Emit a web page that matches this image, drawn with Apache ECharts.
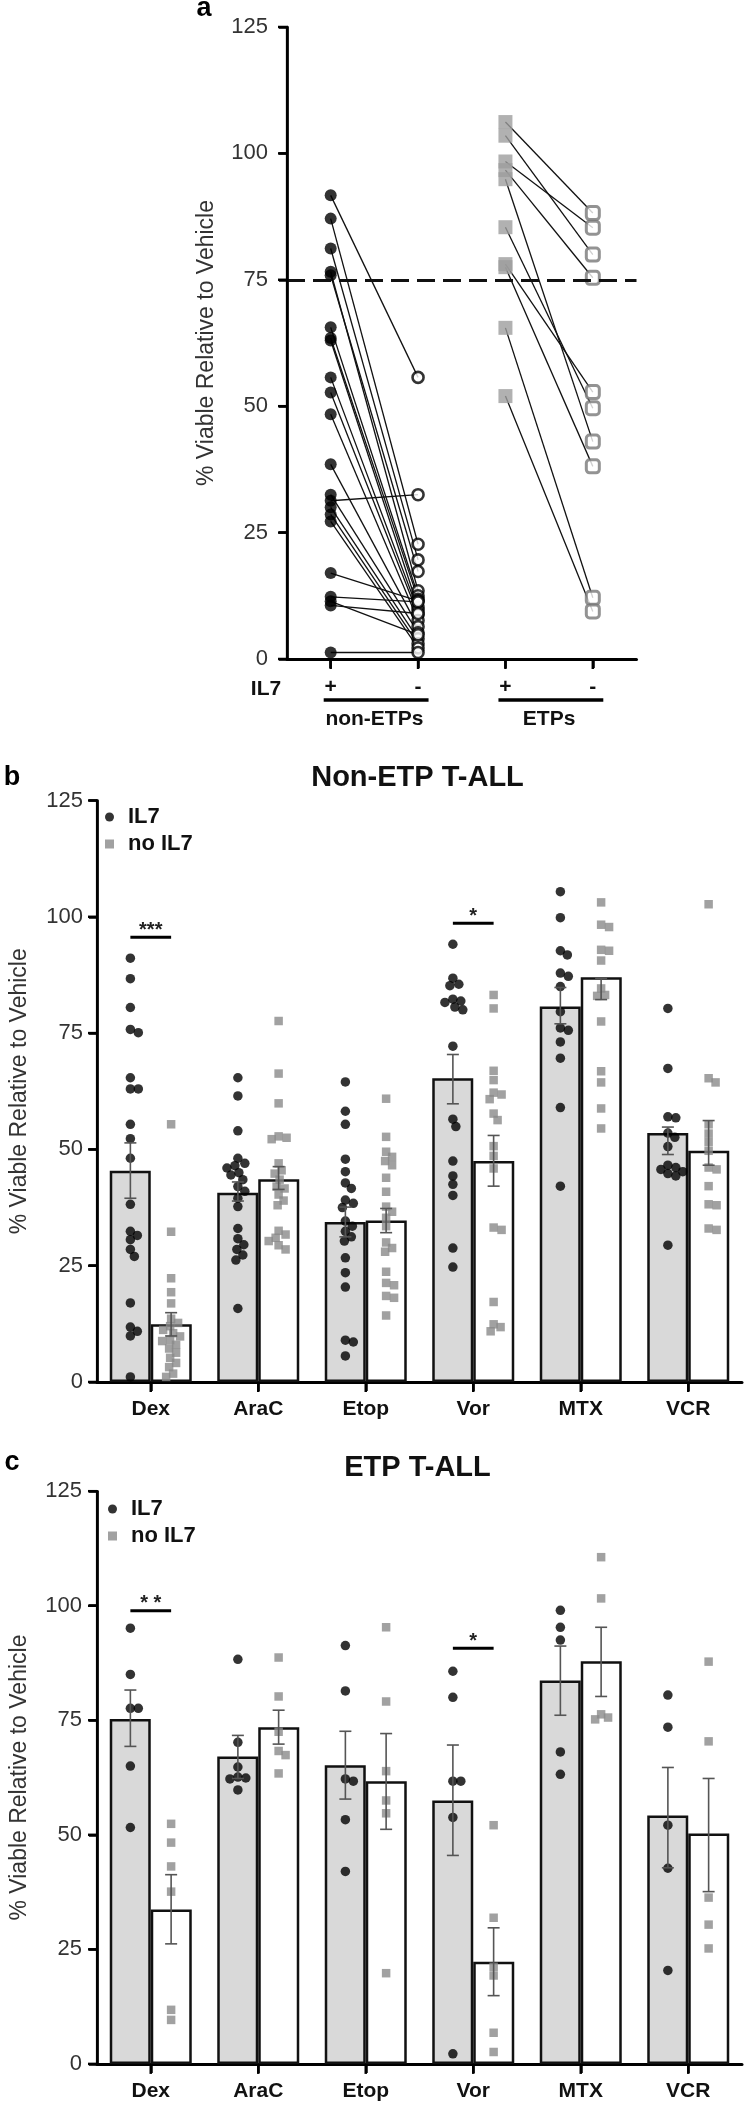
<!DOCTYPE html>
<html><head><meta charset="utf-8">
<script src="https://cdn.jsdelivr.net/npm/echarts@6/dist/echarts.min.js"></script>
<style>html,body{margin:0;padding:0;background:#fff}#c{width:744px;height:2108px}</style>
</head><body><div id="c"></div>
<script>
const FONT = '"Liberation Sans", Arial, Helvetica, sans-serif';

// ---------- Panel a data (paired by index) ----------
const aCategories = ['+', '-', '+', '-'];
const aGroups = ['non-ETPs', 'ETPs'];
const aNonEtpPlus  = [91.7, 87.1, 81.2, 76.6, 75.9, 65.6, 63.5, 63.0, 55.7, 52.7, 48.4, 38.5, 32.5, 31.3, 30.0, 28.6, 27.2, 17.0, 12.3, 11.4, 10.6, 1.3];
const aNonEtpMinus = [55.7, 22.7, 19.6, 13.5, 17.3, 12.5, 11.8, 10.2, 9.6, 8.8, 7.6, 6.4, 5.2, 32.5, 4.0, 3.0, 2.2, 11.5, 11.3, 4.8, 9.0, 1.3];
const aEtpPlus  = [106.2, 103.5, 98.4, 96.7, 94.9, 85.4, 78.1, 77.5, 65.5, 52.0];
const aEtpMinus = [88.2, 80.0, 85.3, 75.4, 43.0, 49.6, 52.8, 38.1, 12.1, 9.4];
const aThreshold = 75;

// ---------- Panels b / c ----------
const drugs = ['Dex', 'AraC', 'Etop', 'Vor', 'MTX', 'VCR'];
const yTicks = [0, 25, 50, 75, 100, 125];

const bMeanIL7   = [45.4, 40.7, 34.4, 65.3, 80.7, 53.5];
const bMeanNoIL7 = [12.4, 43.6, 34.7, 47.5, 87.0, 49.7];
const bErrIL7    = [[39.5, 51.4], [38.9, 43.0], [31.2, 37.6], [59.8, 70.4], [77.0, 84.8], [48.9, 54.8]];
const bErrNoIL7  = [[9.9, 14.9], [41.4, 46.3], [32.1, 37.3], [42.1, 53.0], [82.2, 86.8], [46.6, 56.2]];
const bPtsIL7 = [
  [91.1, 86.7, 80.5, 75.8, 75.1, 65.4, 63.0, 63.0, 55.4, 52.3, 48.1, 38.2, 32.4, 31.5, 30.6, 28.5, 27.0, 17.0, 11.8, 10.9, 9.9, 1.1],
  [65.4, 61.5, 54.0, 48.1, 47.0, 46.5, 46.0, 45.0, 44.5, 43.5, 42.0, 41.0, 39.5, 37.7, 33.0, 30.8, 29.5, 28.5, 27.3, 26.2, 15.8],
  [64.5, 58.2, 55.4, 47.9, 45.2, 42.8, 41.6, 39.1, 38.4, 37.5, 34.6, 33.5, 32.4, 31.2, 30.3, 26.7, 23.5, 20.4, 9.0, 8.6, 5.6],
  [94.1, 86.8, 85.5, 85.2, 82.3, 81.9, 81.6, 80.6, 80.0, 72.2, 56.5, 54.9, 47.5, 44.3, 42.5, 40.1, 28.8, 24.7],
  [105.4, 99.8, 92.7, 91.8, 87.9, 87.2, 85.0, 79.6, 76.1, 75.6, 73.1, 69.6, 59.0, 42.1],
  [80.3, 67.4, 57.0, 56.8, 53.5, 52.6, 50.6, 46.6, 46.1, 45.7, 45.2, 44.8, 44.3, 29.4]
];
const bPtsNoIL7 = [
  [55.4, 32.3, 22.3, 19.3, 16.9, 13.6, 12.7, 12.0, 11.2, 10.5, 9.8, 9.0, 8.8, 8.0, 7.2, 6.3, 5.2, 4.1, 3.2, 1.8, 1.1],
  [77.6, 66.3, 59.9, 52.8, 52.5, 52.2, 47.0, 45.5, 44.8, 43.5, 42.0, 41.6, 40.3, 39.0, 38.0, 32.5, 31.7, 31.0, 30.3, 29.4, 28.5],
  [60.9, 52.7, 49.5, 48.4, 47.5, 46.6, 43.9, 40.9, 37.7, 36.6, 35.3, 33.5, 30.0, 28.8, 28.0, 23.7, 21.3, 20.8, 18.5, 18.1, 14.3],
  [83.2, 80.3, 66.9, 64.9, 62.2, 61.8, 60.8, 57.7, 56.3, 50.7, 48.6, 45.9, 33.2, 32.7, 17.2, 12.4, 11.8, 10.9],
  [103.1, 98.3, 97.8, 92.9, 92.7, 90.6, 84.6, 83.2, 83.0, 77.5, 66.8, 64.4, 58.8, 54.5],
  [102.7, 65.3, 64.4, 55.4, 53.4, 51.6, 49.7, 46.1, 45.7, 42.1, 38.2, 38.0, 33.0, 32.7]
];
const bSigDrug = [0, 3];
const bSigY    = [95.6, 98.6];
const bSigText = ['***', '*'];

const cMeanIL7   = [75.3, 67.1, 65.2, 57.5, 83.7, 54.2];
const cMeanNoIL7 = [33.7, 73.5, 61.7, 22.3, 87.9, 50.3];
const cErrIL7    = [[69.3, 81.6], [62.3, 71.7], [57.8, 72.6], [45.5, 69.6], [76.1, 91.2], [42.8, 64.7]];
const cErrNoIL7  = [[26.2, 41.3], [69.8, 77.2], [51.2, 72.1], [14.9, 29.7], [80.2, 95.3], [37.6, 62.3]];
const cPtsIL7 = [
  [95.1, 85.0, 77.6, 77.6, 65.0, 51.6],
  [88.3, 70.2, 64.8, 62.6, 62.4, 62.2, 59.8],
  [91.3, 81.4, 62.2, 61.7, 53.3, 42.0],
  [85.7, 80.0, 61.7, 61.7, 53.8, 2.2],
  [99.0, 95.3, 92.5, 68.1, 63.2],
  [80.5, 73.5, 52.1, 42.7, 20.4]
];
const cPtsNoIL7 = [
  [52.4, 48.3, 43.1, 37.6, 11.8, 9.6],
  [88.7, 80.2, 72.5, 68.3, 67.4, 63.4],
  [95.3, 79.1, 63.9, 57.5, 54.7, 19.8],
  [52.1, 31.9, 21.2, 19.3, 6.8, 2.6],
  [110.6, 101.6, 76.3, 75.6, 75.2],
  [87.8, 70.4, 36.3, 30.4, 25.2]
];
const cSigDrug = [0, 3];
const cSigY    = [98.9, 90.7];
const cSigText = ['* *', '*'];

// ---------- layout ----------
const gA = {left: 287, top: 27, width: 349.5, height: 632};
const gB = {left: 93, top: 800.5, width: 649, height: 581.5};
const gC = {left: 93, top: 1491.2, width: 649, height: 572.7};
const YMAX = 125;
const BAR_W = 41;
const DOT = 9.5, SQ = 8.5;
const C = 0.5;   // hidden value x-axes run 0..n; category i is centred at i + 0.5

function swarm(vals, center, g, nCat, diam) {
  const ppu = g.height / YMAX, band = g.width / nCat;
  const order = vals.map((v, i) => i).sort((a, b) => vals[b] - vals[a]);
  const placed = [], out = [];
  const cands = [0];
  for (let s = 1; s <= 30; s++) { cands.push(s, -s); }
  for (const i of order) {
    const y = vals[i] * ppu;
    let x = 0;
    for (const cx of cands) {
      if (placed.every(p => (p.x - cx) * (p.x - cx) + (p.y - y) * (p.y - y) >= diam * diam)) { x = cx; break; }
    }
    placed.push({x, y});
    out[i] = [center + x / band, vals[i]];
  }
  return out;
}
function swarmAll(groups, off, g, diam) {
  const res = [];
  groups.forEach((vals, i) => res.push(...swarm(vals, i + C + off, g, drugs.length, diam)));
  return res;
}

function yAxisCfg(gi, nameGap, margin) {
  return {
    type: 'value', gridIndex: gi, min: 0, max: YMAX, interval: 25,
    name: '% Viable Relative to Vehicle', nameLocation: 'middle', nameGap: nameGap,
    nameTextStyle: {fontFamily: FONT, fontSize: 23, color: '#333'},
    axisLine: {show: true, onZero: false, lineStyle: {color: '#000', width: 2.5}},
    axisTick: {show: true, inside: false, length: 8, lineStyle: {color: '#000', width: 2.5}},
    axisLabel: {fontFamily: FONT, fontSize: 22, color: '#333', margin: margin},
    splitLine: {show: false}
  };
}
function catAxisCfg(gi, data, margin) {
  return {
    type: 'category', gridIndex: gi, data: data, boundaryGap: true,
    axisLine: {show: true, onZero: false, lineStyle: {color: '#000', width: 3}},
    axisTick: {show: true, alignWithLabel: true, length: 9, lineStyle: {color: '#000', width: 2.5}},
    axisLabel: {fontFamily: FONT, fontSize: 21, fontWeight: 'bold', color: '#111', margin: margin, interval: 0},
    splitLine: {show: false}
  };
}
function hiddenValX(gi, n) {
  return {type: 'value', gridIndex: gi, min: 0, max: n, show: false, splitLine: {show: false}};
}

// y-axis spine drawn as a plain line series on the hidden value axis (x = 0 is the grid's left edge)
function spineSeries(xi, yi) {
  return {
    type: 'line', xAxisIndex: xi, yAxisIndex: yi, silent: true, clip: false, z: 20,
    symbol: 'none', data: [[0.002, 0], [0.002, YMAX]],
    lineStyle: {color: '#000', width: 2.6, type: 'solid'}
  };
}
// outward y ticks and category ticks
function tickSeries(xi, yi, nCat) {
  return {
    type: 'custom', xAxisIndex: xi, yAxisIndex: yi, silent: true, clip: false, z: 20,
    data: [[nCat / 2, YMAX / 2]],
    renderItem: function (params, api) {
      const ch = [];
      yTicks.forEach(v => {
        const p = api.coord([0, v]);
        ch.push({type: 'rect', shape: {x: p[0] - 9, y: p[1] - 1.25, width: 9.5, height: 2.5}, style: {fill: '#000'}});
      });
      for (let i = 0; i < nCat; i++) {
        const p = api.coord([i + C, 0]);
        ch.push({type: 'rect', shape: {x: p[0] - 1.25, y: p[1], width: 2.5, height: 10}, style: {fill: '#000'}});
      }
      return {type: 'group', children: ch};
    }
  };
}

const errStyle = {stroke: '#555', lineWidth: 1.6, fill: null};
function errSeries(errs, off, xi, yi) {
  return {
    type: 'custom', xAxisIndex: xi, yAxisIndex: yi, z: 5, silent: true, clip: false,
    data: errs.map((e, i) => [i + C + off, e[0], e[1]]),
    renderItem: function (params, api) {
      const x = api.value(0);
      const lo = api.coord([x, api.value(1)]), hi = api.coord([x, api.value(2)]);
      const hw = 6;
      return {type: 'group', children: [
        {type: 'line', shape: {x1: lo[0], y1: lo[1], x2: hi[0], y2: hi[1]}, style: errStyle},
        {type: 'line', shape: {x1: lo[0] - hw, y1: lo[1], x2: lo[0] + hw, y2: lo[1]}, style: errStyle},
        {type: 'line', shape: {x1: hi[0] - hw, y1: hi[1], x2: hi[0] + hw, y2: hi[1]}, style: errStyle}
      ]};
    }
  };
}
function sigSeries(drugIdx, ys, texts, off, xi, yi) {
  return {
    type: 'custom', xAxisIndex: xi, yAxisIndex: yi, z: 6, silent: true, clip: false,
    data: drugIdx.map((d, k) => [d + C, ys[k]]),
    renderItem: function (params, api) {
      const d = api.value(0), y = api.value(1);
      const p1 = api.coord([d - off, y]), p2 = api.coord([d + off, y]);
      return {type: 'group', children: [
        {type: 'line', shape: {x1: p1[0], y1: p1[1], x2: p2[0], y2: p2[1]}, style: {stroke: '#000', lineWidth: 3}},
        {type: 'text', x: (p1[0] + p2[0]) / 2, y: p1[1] + 3,
         style: {text: texts[params.dataIndex], fontFamily: FONT, fontSize: 20, fontWeight: 'bold', fill: '#222',
                 align: 'center', verticalAlign: 'bottom'}}
      ]};
    }
  };
}

function barPanel(gi, catXi, valXi, g, meanIL7, meanNo, errIL7, errNo, ptsIL7, ptsNo, sigD, sigY, sigT) {
  const off = (BAR_W / 2) / (g.width / drugs.length);
  return [
    {type: 'bar', name: 'IL7 mean', xAxisIndex: catXi, yAxisIndex: gi, data: meanIL7, barWidth: BAR_W, barGap: '0%',
     itemStyle: {color: '#d9d9d9', borderColor: '#111', borderWidth: 2.5}, z: 1, silent: true},
    {type: 'bar', name: 'no IL7 mean', xAxisIndex: catXi, yAxisIndex: gi, data: meanNo, barWidth: BAR_W, barGap: '0%',
     itemStyle: {color: '#ffffff', borderColor: '#111', borderWidth: 2.5}, z: 1, silent: true},
    {type: 'scatter', name: 'IL7', xAxisIndex: valXi, yAxisIndex: gi, symbol: 'circle', symbolSize: DOT,
     itemStyle: {color: '#000'}, z: 3, silent: true, data: swarmAll(ptsIL7, -off, g, 8)},
    {type: 'scatter', name: 'no IL7', xAxisIndex: valXi, yAxisIndex: gi, symbol: 'rect', symbolSize: SQ,
     itemStyle: {color: '#8a8a8a'}, z: 3, silent: true, data: swarmAll(ptsNo, off, g, 7.5)},
    errSeries(errIL7, -off, valXi, gi),
    errSeries(errNo, off, valXi, gi),
    sigSeries(sigD, sigY, sigT, off, valXi, gi),
    spineSeries(valXi, gi),
    tickSeries(valXi, gi, drugs.length)
  ];
}

const legendCfg = (left, top) => ({
  left: left, top: top, orient: 'vertical', itemWidth: 9, itemHeight: 9, itemGap: 5, padding: 0,
  selectedMode: false,
  data: [{name: 'IL7', icon: 'circle'}, {name: 'no IL7', icon: 'rect'}],
  textStyle: {fontFamily: FONT, fontSize: 22, fontWeight: 'bold', color: '#111', lineHeight: 22, padding: [0, 0, 0, 9]}
});

const pairLines = [];
aNonEtpPlus.forEach((v, i) => pairLines.push({coords: [[0 + C, v], [1 + C, aNonEtpMinus[i]]]}));
aEtpPlus.forEach((v, i) => pairLines.push({coords: [[2 + C, v], [3 + C, aEtpMinus[i]]]}));

const option = {
  animation: false,
  backgroundColor: '#fff',
  grid: [
    Object.assign({containLabel: false}, gA),
    Object.assign({containLabel: false}, gB),
    Object.assign({containLabel: false}, gC)
  ],
  xAxis: [
    catAxisCfg(0, aCategories, 18),                    // 0
    hiddenValX(0, aCategories.length),                 // 1
    {type: 'category', gridIndex: 0, data: aGroups, position: 'bottom', boundaryGap: true,  // 2
     axisLine: {show: false}, axisTick: {show: false}, splitLine: {show: false},
     axisLabel: {fontFamily: FONT, fontSize: 21, fontWeight: 'bold', color: '#111', margin: 50, interval: 0}},
    catAxisCfg(1, drugs, 17),                          // 3
    hiddenValX(1, drugs.length),                       // 4
    catAxisCfg(2, drugs, 17),                          // 5
    hiddenValX(2, drugs.length)                        // 6
  ],
  yAxis: [yAxisCfg(0, 69, 19), yAxisCfg(1, 66, 14), yAxisCfg(2, 66, 15)],
  legend: [legendCfg(105, 806), legendCfg(108, 1498)],
  series: [
    // panel a
    {type: 'lines', coordinateSystem: 'cartesian2d', xAxisIndex: 1, yAxisIndex: 0, z: 1, silent: true,
     polyline: false, lineStyle: {color: '#111', width: 1.3, opacity: 1, curveness: 0}, data: pairLines},
    {type: 'scatter', name: 'non-ETP +IL7', xAxisIndex: 1, yAxisIndex: 0, symbol: 'circle', symbolSize: 12,
     itemStyle: {color: '#000'}, z: 3, silent: true, data: aNonEtpPlus.map(v => [0 + C, v]),
     markLine: {silent: true, symbol: ['none', 'none'], label: {show: false},
                lineStyle: {color: '#111', width: 3, type: [18, 8]}, data: [{yAxis: aThreshold}]}},
    {type: 'scatter', name: 'non-ETP -IL7', xAxisIndex: 1, yAxisIndex: 0, symbol: 'circle', symbolSize: 11,
     itemStyle: {color: '#fff', borderColor: '#000', borderWidth: 2.6}, z: 3, silent: true,
     data: aNonEtpMinus.map(v => [1 + C, v])},
    {type: 'scatter', name: 'ETP +IL7', xAxisIndex: 1, yAxisIndex: 0, symbol: 'rect', symbolSize: 14,
     itemStyle: {color: '#9e9e9e'}, z: 3, silent: true, data: aEtpPlus.map(v => [2 + C, v])},
    {type: 'scatter', name: 'ETP -IL7', xAxisIndex: 1, yAxisIndex: 0, symbol: 'roundRect', symbolSize: 13,
     itemStyle: {color: '#fff', borderColor: '#787878', borderWidth: 3}, z: 3, silent: true,
     data: aEtpMinus.map(v => [3 + C, v])},
    {type: 'custom', xAxisIndex: 1, yAxisIndex: 0, silent: true, clip: false, z: 4,
     data: aGroups.map((gname, k) => [2 * k + 1, 0]),
     renderItem: function (params, api) {
       const k = params.dataIndex;
       const p1 = api.coord([2 * k + C - 0.08, 0]), p2 = api.coord([2 * k + 1 + C + 0.12, 0]);
       const y = p1[1] + 41;
       return {type: 'line', shape: {x1: p1[0], y1: y, x2: p2[0], y2: y}, style: {stroke: '#000', lineWidth: 3.5}};
     }},
    spineSeries(1, 0),
    tickSeries(1, 0, aCategories.length),
    // panel b
    ...barPanel(1, 3, 4, gB, bMeanIL7, bMeanNoIL7, bErrIL7, bErrNoIL7, bPtsIL7, bPtsNoIL7, bSigDrug, bSigY, bSigText),
    // panel c
    ...barPanel(2, 5, 6, gC, cMeanIL7, cMeanNoIL7, cErrIL7, cErrNoIL7, cPtsIL7, cPtsNoIL7, cSigDrug, cSigY, cSigText)
  ],
  graphic: [
    {type: 'text', x: 204, y: 9, style: {text: 'a', fontFamily: FONT, fontSize: 27, fontWeight: 'bold', fill: '#000', align: 'center', verticalAlign: 'middle'}},
    {type: 'text', x: 266, y: 689, style: {text: 'IL7', fontFamily: FONT, fontSize: 21, fontWeight: 'bold', fill: '#111', align: 'center', verticalAlign: 'middle'}},
    {type: 'text', x: 12, y: 778, style: {text: 'b', fontFamily: FONT, fontSize: 27, fontWeight: 'bold', fill: '#000', align: 'center', verticalAlign: 'middle'}},
    {type: 'text', x: gB.left + gB.width / 2, y: 778, style: {text: 'Non-ETP T-ALL', fontFamily: FONT, fontSize: 29, fontWeight: 'bold', fill: '#111', align: 'center', verticalAlign: 'middle'}},
    {type: 'text', x: 12, y: 1463, style: {text: 'c', fontFamily: FONT, fontSize: 27, fontWeight: 'bold', fill: '#000', align: 'center', verticalAlign: 'middle'}},
    {type: 'text', x: gC.left + gC.width / 2, y: 1468, style: {text: 'ETP T-ALL', fontFamily: FONT, fontSize: 29, fontWeight: 'bold', fill: '#111', align: 'center', verticalAlign: 'middle'}}
  ]
};

const chart = echarts.init(document.getElementById('c'), null, {renderer: 'canvas', width: 744, height: 2108});
chart.setOption(option);
</script>
</body></html>
